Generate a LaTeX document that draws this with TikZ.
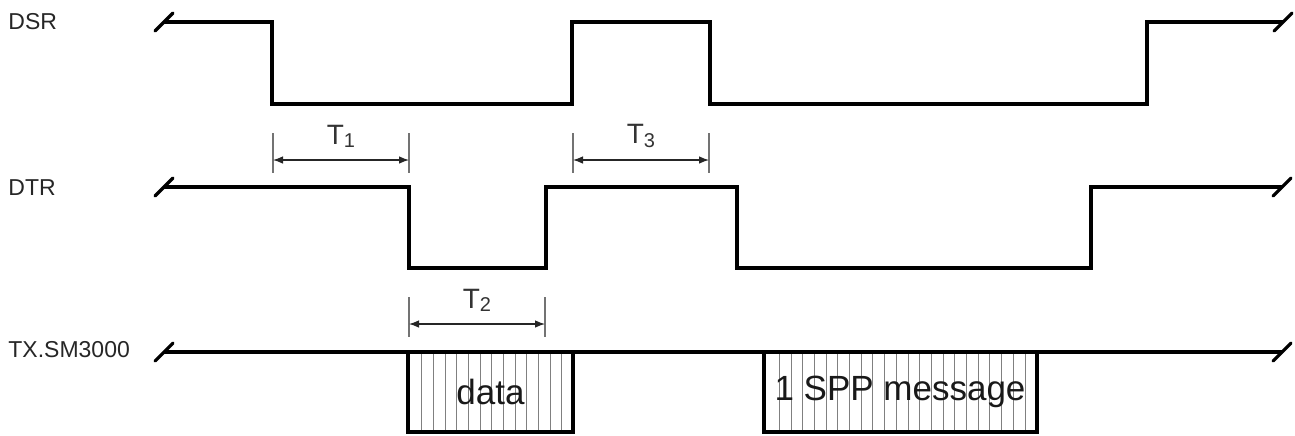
\documentclass[tikz,border=0pt]{standalone}
\usepackage{fontspec}
\setmainfont{Liberation Sans}
\usetikzlibrary{arrows.meta}
\begin{document}
\begin{tikzpicture}[x=0.5pt,y=-0.5pt,
  signal/.style={line width=1.6pt, line join=miter},
  breakmark/.style={line width=1.6pt, line cap=round},
  hatch/.style={line width=0.5pt, draw=black!50},
  tick/.style={line width=0.65pt, draw=black!55},
  dimarrow/.style={line width=0.6pt, draw=black!85, {Latex[length=5pt,width=3.8pt]}-{Latex[length=5pt,width=3.8pt]}},
  siglabel/.style={font=\fontsize{11.5}{11.5}\selectfont, text=black!85, anchor=west, inner sep=0pt},
  tlabel/.style={font=\fontsize{14}{14}\selectfont, text=black!80, inner sep=0pt},
  boxtext/.style={font=\fontsize{17.5}{17.5}\selectfont, text=black!90, inner sep=0pt}]
\useasboundingbox (0,0) rectangle (1295,435);
\newcommand{\subnum}[1]{\raisebox{-1.6pt}{\fontsize{10}{10}\selectfont #1}}

% signal names
\node[siglabel] (dsr) at (8,22) {DSR};
\node[siglabel] (dtr) at (8,188) {DTR};
\node[siglabel] (tx) at (8,350) {TX.SM3000};

% DSR waveform
\draw[signal] (164,22) -- (272,22) -- (272,104) -- (572,104) -- (572,22) -- (710,22)
  -- (710,104) -- (1147,104) -- (1147,22) -- (1283,22);
\draw[breakmark] (155,31) -- (173,13);
\draw[breakmark] (1274,31) -- (1292,13);

% DTR waveform
\draw[signal] (164,187) -- (409,187) -- (409,268) -- (546,268) -- (546,187) -- (737,187)
  -- (737,268) -- (1091,268) -- (1091,187) -- (1282,187);
\draw[breakmark] (155,196) -- (173,178);
\draw[breakmark] (1273,196) -- (1291,178);

% TX line and transmitted blocks
\foreach \i in {0,...,12} \draw[hatch] ({421.7+11.67*\i},352) -- ++(0,80);
\foreach \i in {0,...,21} \draw[hatch] ({779.3+11.7*\i},352) -- ++(0,80);
\draw[signal] (164,352) -- (1282,352);
\draw[signal] (408,352) -- (408,432) -- (573,432) -- (573,352);
\draw[signal] (764,352) -- (764,432) -- (1037,432) -- (1037,352);
\draw[breakmark] (155,361) -- (173,343);
\draw[breakmark] (1273,361) -- (1291,343);
\node[boxtext] (data) at (490.5,392) {data};
\node[boxtext] (spp) at (900,392) {1 SPP message};

% T1
\coordinate (t1a) at (273,160);
\coordinate (t1b) at (409,160);
\draw[tick] (273,133) -- (273,173);
\draw[tick] (409,133) -- (409,173);
\draw[dimarrow] (t1a) -- (t1b);
\node[tlabel] (t1) at (341,136) {T\subnum{1}};

% T3
\coordinate (t3a) at (573,160);
\coordinate (t3b) at (709,160);
\draw[tick] (573,133) -- (573,173);
\draw[tick] (709,133) -- (709,173);
\draw[dimarrow] (t3a) -- (t3b);
\node[tlabel] (t3) at (641,136) {T\subnum{3}};

% T2
\coordinate (t2a) at (409,324);
\coordinate (t2b) at (545,324);
\draw[tick] (409,297) -- (409,337);
\draw[tick] (545,297) -- (545,337);
\draw[dimarrow] (t2a) -- (t2b);
\node[tlabel] (t2) at (477,300) {T\subnum{2}};
\end{tikzpicture}
\end{document}
